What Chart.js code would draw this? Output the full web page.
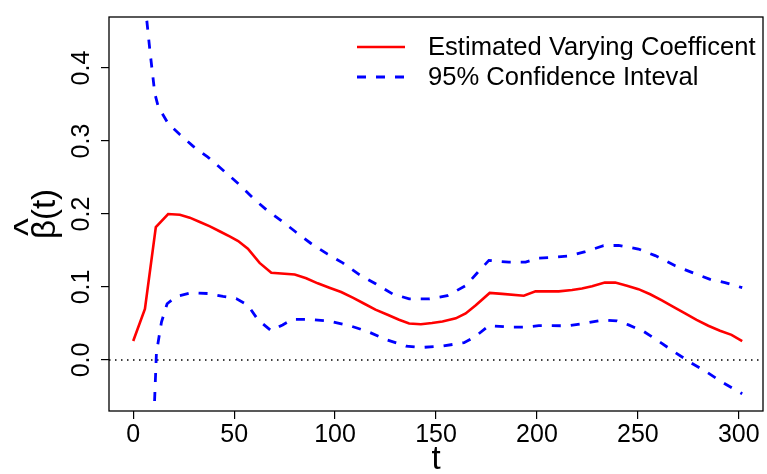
<!DOCTYPE html>
<html>
<head>
<meta charset="utf-8">
<script src="https://cdn.jsdelivr.net/npm/chart.js@4.4.1/dist/chart.umd.min.js"></script>
<style>
  html, body { margin: 0; padding: 0; background: #fff; }
  #wrap { position: relative; width: 767px; height: 474px; }
</style>
</head>
<body>
<div id="wrap"><canvas id="betaChart"></canvas></div>
<script>
// estimated varying coefficient beta(t)
const estT = [0, 5.8, 11.2, 17.3, 23.1, 28, 33, 38, 43, 48, 52, 56.8, 62.6, 68.4, 80, 85.7, 91.4, 97.2,
  103, 109, 114.5, 120, 126, 131.7, 136.7, 142.5, 148, 153.2, 159.8, 164.7, 169.7, 176.6, 182.8, 193.5,
  199.3, 210.8, 217.4, 222.3, 227.3, 233.6, 238.8, 244.6, 250.3, 256.1, 261.9, 267.6, 273.4, 279.1,
  284.9, 290.7, 296.4, 301.7];
const estimate = [0.026, 0.070, 0.182, 0.200, 0.199, 0.195, 0.189, 0.183, 0.176, 0.169, 0.163, 0.1525,
  0.133, 0.1195, 0.117, 0.112, 0.105, 0.099, 0.093, 0.085, 0.077, 0.069, 0.062, 0.055, 0.050, 0.049,
  0.0505, 0.0526, 0.057, 0.0637, 0.075, 0.0918, 0.0905, 0.088, 0.094, 0.094, 0.0958, 0.098, 0.101,
  0.106, 0.106, 0.1017, 0.097, 0.090, 0.0816, 0.0726, 0.0637, 0.0548, 0.0468, 0.0401, 0.0343, 0.0258];

// 95% band, upper
const upperT = [0, 5.8, 8.3, 10.7, 12.4, 17.3, 23.1, 29.6, 37, 44.5, 52.7, 60.1, 65.9, 73.3, 80.7, 88.1,
  96.3, 103.8, 112, 120.3, 128.5, 136.7, 146.6, 155.6, 164.7, 170.5, 176.2, 186.1, 194.4, 200.9, 207.5,
  215.8, 224, 233, 240.5, 250.3, 258.6, 268.5, 276.7, 285.8, 293.2, 298.4, 301.7];
const upper = [0.62, 0.49, 0.423, 0.365, 0.347, 0.324, 0.309, 0.293, 0.278, 0.260, 0.240, 0.2198, 0.206,
  0.191, 0.175, 0.1596, 0.145, 0.133, 0.117, 0.104, 0.0904, 0.0837, 0.0837, 0.088, 0.1017, 0.1195,
  0.1364, 0.134, 0.134, 0.1395, 0.1404, 0.1426, 0.1485, 0.1565, 0.157, 0.152, 0.143, 0.129, 0.120,
  0.1105, 0.106, 0.1017, 0.099];

// 95% band, lower
const lowerT = [0, 5.8, 11.5, 14, 16.8, 21.4, 28.8, 37, 44.5, 51, 56.8, 61.8, 68.4, 74, 79, 87.3, 96.3,
  107.1, 116.1, 125.2, 135.1, 142.5, 153.2, 163.9, 169.7, 176.2, 186.1, 194.4, 200.9, 215.8, 224, 233,
  239.6, 245.4, 252.8, 260.2, 268.5, 275.9, 284.1, 291.5, 301.7];
const lower = [-0.55, -0.40, 0.01, 0.052, 0.077, 0.087, 0.092, 0.091, 0.087, 0.084, 0.075, 0.055, 0.040,
  0.048, 0.0557, 0.0557, 0.0535, 0.047, 0.039, 0.028, 0.019, 0.017, 0.019, 0.0236, 0.0325, 0.047, 0.045,
  0.045, 0.047, 0.0468, 0.0503, 0.0548, 0.0535, 0.048, 0.0392, 0.0258, 0.0102, -0.0032, -0.0166, -0.030,
  -0.0464];

const xRange = [-12, 312];
const yRange = [-0.07, 0.47];
const legendLabels = ["Estimated Varying Coefficent", "95% Confidence Inteval"];

const FONT = "'Liberation Sans', Arial, Helvetica, sans-serif";
const RED = "#ff0000";
const BLUE = "#0000ff";
const DASH = [9, 10];

const pairs = (ts, vs) => ts.map((t, i) => ({ x: t, y: vs[i] }));

// box, zero reference line, the hat over beta and the legend (R-style, no frame)
const plotDecor = {
  id: "plotDecor",
  beforeDatasetsDraw(chart) {
    const { ctx, chartArea: a, scales } = chart;
    const y0 = scales.y.getPixelForValue(0);
    ctx.save();
    ctx.strokeStyle = "#000";
    ctx.lineWidth = 1.4;
    ctx.setLineDash([1.5, 4.5]);
    ctx.beginPath();
    ctx.moveTo(a.left, y0);
    ctx.lineTo(a.right, y0);
    ctx.stroke();
    ctx.restore();
  },
  afterDraw(chart) {
    const { ctx, chartArea: a } = chart;
    ctx.save();
    ctx.strokeStyle = "#000";
    ctx.lineWidth = 1.3;
    ctx.strokeRect(a.left, a.top, a.right - a.left, a.bottom - a.top);

    // accent for the y title: sits over the beta glyph
    const midY = (a.top + a.bottom) / 2;
    ctx.save();
    ctx.translate(31, midY + 13);
    ctx.rotate(-Math.PI / 2);
    ctx.fillStyle = "#000";
    ctx.font = "38px " + FONT;
    ctx.textAlign = "center";
    ctx.textBaseline = "middle";
    ctx.fillText("^", 0, 0);
    ctx.restore();

    const sx0 = a.right - 406, sx1 = a.right - 358, tx = a.right - 335;
    chart.data.datasets.slice(0, 2).forEach((ds, i) => {
      const yy = a.top + 30 + i * 30;
      ctx.strokeStyle = ds.borderColor;
      ctx.lineWidth = ds.borderWidth;
      ctx.setLineDash(ds.borderDash || []);
      ctx.beginPath();
      ctx.moveTo(sx0, yy);
      ctx.lineTo(sx1, yy);
      ctx.stroke();
      ctx.setLineDash([]);
      ctx.fillStyle = "#000";
      ctx.font = "25.6px " + FONT;
      ctx.textBaseline = "middle";
      ctx.textAlign = "left";
      ctx.fillText(legendLabels[i], tx, yy + 1);
    });
    ctx.restore();
  }
};

new Chart(document.getElementById("betaChart"), {
  type: "line",
  data: {
    datasets: [
      {
        label: legendLabels[0],
        data: pairs(estT, estimate),
        borderColor: RED,
        borderWidth: 2.6,
        pointRadius: 0,
        tension: 0,
        clip: 0
      },
      {
        label: legendLabels[1],
        data: pairs(upperT, upper),
        borderColor: BLUE,
        borderWidth: 2.8,
        borderDash: DASH,
        pointRadius: 0,
        tension: 0,
        clip: 0
      },
      {
        label: "lower",
        data: pairs(lowerT, lower),
        borderColor: BLUE,
        borderWidth: 2.8,
        borderDash: DASH,
        pointRadius: 0,
        tension: 0,
        clip: 0
      }
    ]
  },
  options: {
    responsive: true,
    maintainAspectRatio: false,
    animation: false,
    layout: { padding: { top: 8, right: 4, left: 0, bottom: 0 } },
    plugins: {
      legend: { display: false },
      tooltip: { enabled: false }
    },
    scales: {
      x: {
        type: "linear",
        min: xRange[0],
        max: xRange[1],
        afterFit: (s) => { s.height = 63; },
        border: { display: false },
        grid: { display: true, drawOnChartArea: false, drawTicks: true, tickLength: 8, color: "#000", lineWidth: 1.2 },
        ticks: {
          stepSize: 50,
          includeBounds: false,
          autoSkip: false,
          maxRotation: 0,
          padding: 1,
          color: "#000",
          font: { family: FONT, size: 25 }
        },
        title: {
          display: true,
          text: "t",
          color: "#000",
          font: { family: FONT, size: 33 },
          padding: { top: 0, bottom: -6 }
        }
      },
      y: {
        type: "linear",
        min: yRange[0],
        max: yRange[1],
        afterFit: (s) => { s.width = 109; },
        border: { display: false },
        grid: { display: true, drawOnChartArea: false, drawTicks: true, tickLength: 8, color: "#000", lineWidth: 1.2 },
        ticks: {
          stepSize: 0.1,
          includeBounds: false,
          autoSkip: false,
          minRotation: 90,
          maxRotation: 90,
          crossAlign: "center",
          padding: 2,
          color: "#000",
          font: { family: FONT, size: 25 },
          callback: (v) => v.toFixed(1)
        },
        title: {
          display: true,
          text: "β(t)",
          color: "#000",
          font: { family: FONT, size: 33 },
          padding: { top: 26, bottom: 0 }
        }
      }
    }
  },
  plugins: [plotDecor]
});
</script>
</body>
</html>
